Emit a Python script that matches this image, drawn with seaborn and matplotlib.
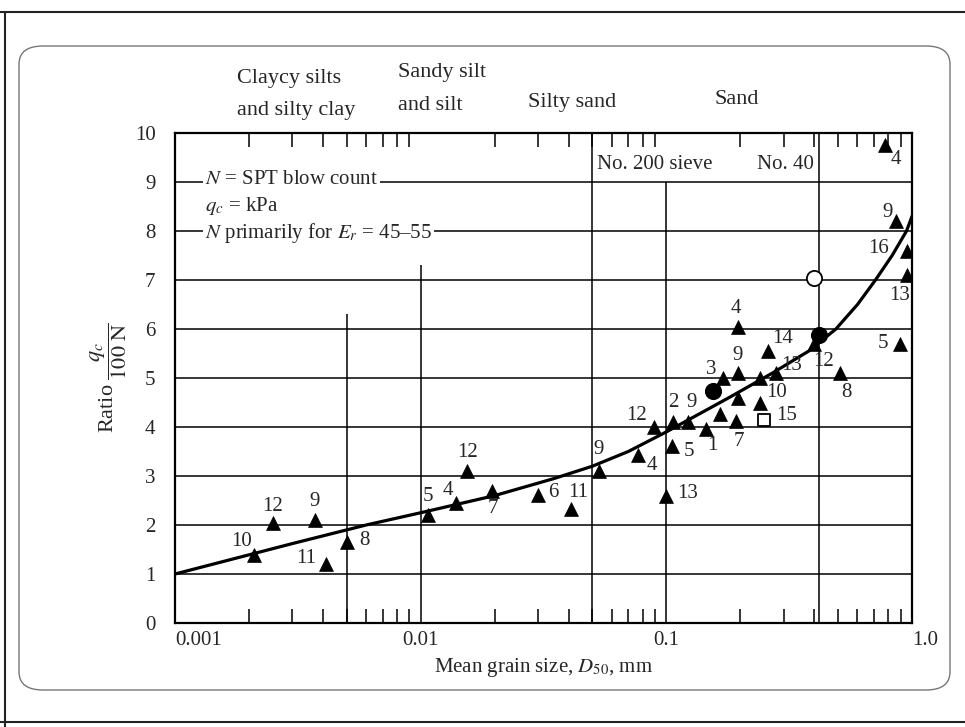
import matplotlib
matplotlib.use("Agg")
import matplotlib.pyplot as plt
import matplotlib.ticker as mticker
from matplotlib.patches import FancyBboxPatch
from matplotlib.lines import Line2D
import pandas as pd
import seaborn as sns

# SPT / CPT data points (triangles): mean grain size D50 (mm) and ratio qc/(100 N)
tri_d50 = [0.0021, 0.0025, 0.0037, 0.0041, 0.0050, 0.0107, 0.0139, 0.0155, 0.0195,
           0.030, 0.041, 0.053, 0.077, 0.100, 0.105, 0.089, 0.106, 0.123, 0.145,
           0.166, 0.193, 0.195, 0.170, 0.195, 0.240, 0.240, 0.280, 0.260, 0.195,
           0.400, 0.510, 0.89, 0.95, 0.95, 0.86, 0.78]
tri_ratio = [1.38, 2.05, 2.1, 1.2, 1.65, 2.2, 2.45, 3.1, 2.7,
             2.62, 2.32, 3.1, 3.42, 2.6, 3.62, 4.0, 4.1, 4.1, 3.95,
             4.27, 4.12, 4.6, 5.0, 5.1, 5.0, 4.5, 5.1, 5.55, 6.05,
             5.7, 5.1, 5.7, 7.1, 7.6, 8.2, 9.75]
tri_label = ["10", "12", "9", "11", "8", "5", "4", "12", "7",
             "6", "11", "9", "4", "13", "5", "12", "2", "9", "1",
             "", "7", "", "3", "9", "", "10", "13", "14", "4",
             "12", "8", "5", "13", "16", "9", "4"]
# label offsets from the marker (pixels, x right / y up)
tri_dx = [-13, 0, 0, -19, 18, 0, -8, 0, 1,
          15, 7, 0, 13, 21, 17, -17, 1, 3, 6,
          0, 2, 0, -12, 0, 0, 17, 15, 14, -2,
          9, 6, -17, -7, -28, -8, 10]
tri_dy = [14, 16, 19, 6, 2, 19, 12, 19, -18,
          2, 17, 22, -10, 2, -6, 12, 20, 20, -16,
          0, -20, 0, 9, 18, 0, 10, 8, 13, 18,
          -18, -19, 0, -20, 2, 9, -14]

# other symbols
dot_d50 = [0.155, 0.42]
dot_ratio = [4.73, 5.88]
ring_d50 = [0.40]
ring_ratio = [7.05]
square_d50 = [0.25]
square_ratio = [4.15]
square_label = ["15"]

# trend curve
curve_d50 = [0.001, 0.003, 0.006, 0.01, 0.02, 0.035, 0.05, 0.07, 0.1, 0.14, 0.18,
             0.27, 0.38, 0.49, 0.6, 0.71, 0.83, 0.95, 1.0]
curve_ratio = [1.0, 1.62, 2.0, 2.25, 2.6, 2.95, 3.2, 3.5, 3.9, 4.3, 4.6,
               5.1, 5.55, 6.0, 6.5, 7.0, 7.5, 8.0, 8.3]

# chart grid: vertical boundaries and their heights
vline_d50 = [0.005, 0.01, 0.05, 0.1, 0.42]
vline_top = [6.3, 7.3, 10, 9.0, 10]
hline_ratio = [1, 2, 3, 4, 5, 6, 7, 8, 9]

x_ticks = [0.001, 0.01, 0.1, 1.0]
x_ticklabels = ["0.001", "0.01", "0.1", "1.0"]
y_ticks = list(range(0, 11))

sns.set_theme(style="white")
plt.rcParams["font.family"] = ["Liberation Serif", "DejaVu Serif"]
plt.rcParams["mathtext.fontset"] = "stix"

fig = plt.figure(figsize=(9.65, 7.27), dpi=100)
ax = fig.add_axes([175 / 965, 104 / 727, 737 / 965, 490 / 727])

# page frame
fig.add_artist(FancyBboxPatch((19 / 965, 37 / 727), 931 / 965, 644 / 727,
                              boxstyle="round,pad=0,rounding_size=0.025",
                              transform=fig.transFigure, fill=False,
                              edgecolor="#777777", linewidth=1.0))
fig.add_artist(Line2D([0, 1], [1 - 12 / 727, 1 - 12 / 727], transform=fig.transFigure,
                      color="#222222", linewidth=1.5))
fig.add_artist(Line2D([5 / 965, 5 / 965], [0, 1 - 12 / 727], transform=fig.transFigure,
                      color="#222222", linewidth=1.5))
fig.add_artist(Line2D([0, 1], [5 / 727, 5 / 727], transform=fig.transFigure,
                      color="#222222", linewidth=1.5))

ax.set_xscale("log")
ax.set_xlim(0.001, 1.0)
ax.set_ylim(0, 10)

for y in hline_ratio:
    ax.axhline(y, color="black", linewidth=1.1, zorder=1)
ax.vlines(vline_d50, 0, vline_top, color="black", linewidth=1.1, zorder=1)

curve = pd.DataFrame({"d50": curve_d50, "ratio": curve_ratio})
sns.lineplot(data=curve, x="d50", y="ratio", sort=False, color="black",
             linewidth=2.3, ax=ax, zorder=3)

tri = pd.DataFrame({"d50": tri_d50, "ratio": tri_ratio, "label": tri_label})
sns.scatterplot(data=tri, x="d50", y="ratio", marker="^", s=100, color="black",
                edgecolor="black", linewidth=0.5, ax=ax, zorder=4)
sns.scatterplot(x=dot_d50, y=dot_ratio, marker="o", s=130, color="black",
                edgecolor="black", ax=ax, zorder=4)
sns.scatterplot(x=ring_d50, y=ring_ratio, marker="o", s=120, facecolor="white",
                edgecolor="black", linewidth=1.3, ax=ax, zorder=4)
sns.scatterplot(x=square_d50, y=square_ratio, marker="s", s=70, facecolor="white",
                edgecolor="black", linewidth=1.3, ax=ax, zorder=4)

for x, y, lab, dx, dy in zip(tri_d50, tri_ratio, tri_label, tri_dx, tri_dy):
    if lab:
        ax.annotate(lab, (x, y), xytext=(dx * 0.72, dy * 0.72), textcoords="offset points",
                    ha="center", va="center", fontsize=15, zorder=5)
ax.annotate(square_label[0], (square_d50[0], square_ratio[0]), xytext=(23 * 0.72, 4 * 0.72),
            textcoords="offset points", ha="center", va="center", fontsize=15, zorder=5)

# notes inside the chart
box = dict(facecolor="white", edgecolor="none", pad=1.5)
ax.text(0.00132, 9.05, r"$N$ = SPT blow count", fontsize=15, va="center", bbox=box, zorder=2)
ax.text(0.00132, 8.52, r"$q_c$ = kPa", fontsize=15, va="center", bbox=box, zorder=2)
ax.text(0.00132, 7.95, r"$N$ primarily for $E_r$ = 45–55", fontsize=15, va="center",
        bbox=box, zorder=2)
ax.text(0.052, 9.35, "No. 200 sieve", fontsize=15, va="center", zorder=2)
ax.text(0.40, 9.35, "No. 40", fontsize=15, va="center", ha="right", zorder=2)

# soil class headers above the chart
fig.text(237 / 965, 1 - 78 / 727, "Claycy silts", fontsize=16, va="center")
fig.text(237 / 965, 1 - 110 / 727, "and silty clay", fontsize=16, va="center")
fig.text(398 / 965, 1 - 72 / 727, "Sandy silt", fontsize=16, va="center")
fig.text(398 / 965, 1 - 105 / 727, "and silt", fontsize=16, va="center")
fig.text(528 / 965, 1 - 102 / 727, "Silty sand", fontsize=16, va="center")
fig.text(714 / 965, 1 - 100 / 727, "Sand", fontsize=16, va="center")

ax.set_xticks(x_ticks)
ax.set_xticklabels(x_ticklabels)
xlabels = ax.get_xticklabels()
xlabels[0].set_horizontalalignment("left")
xlabels[-1].set_horizontalalignment("left")
ax.xaxis.set_minor_locator(mticker.LogLocator(base=10, subs=range(2, 10)))
ax.xaxis.set_minor_formatter(mticker.NullFormatter())
ax.set_yticks(y_ticks)
ax.tick_params(axis="x", which="major", length=0, pad=6, labelsize=15)
ax.tick_params(axis="x", which="minor", direction="in", length=10, width=1.1,
               top=True, bottom=True, color="black")
ax.tick_params(axis="y", length=0, pad=14, labelsize=15)

for side in ["left", "right", "top", "bottom"]:
    ax.spines[side].set_visible(True)
    ax.spines[side].set_color("black")
    ax.spines[side].set_linewidth(1.6)

ax.set_xlabel(r"Mean grain size, $D_{50}$, mm", fontsize=15, labelpad=4)
ax.set_ylabel(r"Ratio $\dfrac{q_c}{100\ \mathrm{N}}$", fontsize=16, labelpad=4)

fig.savefig("out.png", dpi=100, facecolor="white")
